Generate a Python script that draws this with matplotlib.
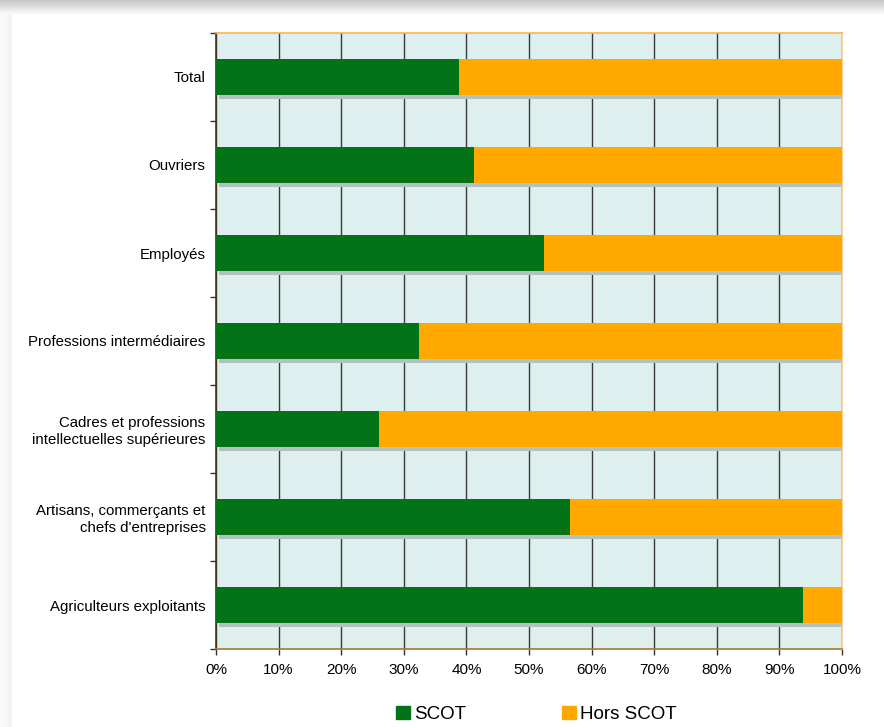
import numpy as np
import matplotlib.pyplot as plt
import matplotlib.patheffects as pe
from matplotlib.patches import Patch

plt.rcParams['font.family'] = ['Liberation Sans', 'DejaVu Sans']

categories = ["Agriculteurs exploitants",
              "Artisans, commerçants et\nchefs d'entreprises",
              "Cadres et professions\nintellectuelles supérieures",
              "Professions intermédiaires",
              "Employés",
              "Ouvriers",
              "Total"]
scot = [93.7, 56.5, 26.0, 32.4, 52.4, 41.2, 38.8]
hors_scot = [100 - v for v in scot]
xticks = [0, 10, 20, 30, 40, 50, 60, 70, 80, 90, 100]

green = "#037317"
orange = "#ffa800"

fig = plt.figure(figsize=(8.84, 7.27), dpi=100)
fig.patch.set_facecolor("white")

# gray band at top of the page and faint left border
band = fig.add_axes([0, 1 - 14 / 727, 1, 14 / 727])
grad = np.linspace(0.78, 0.97, 14).reshape(-1, 1)
band.imshow(grad, cmap="gray", vmin=0, vmax=1, aspect="auto", extent=[0, 1, 0, 1])
band.axis("off")
side = fig.add_axes([0, 0, 12 / 884, 1 - 14 / 727])
side.imshow(np.linspace(0.985, 0.95, 12).reshape(1, -1), cmap="gray", vmin=0, vmax=1,
            aspect="auto", extent=[0, 1, 0, 1])
side.axis("off")

ax = fig.add_axes([216 / 884, 78 / 727, 626 / 884, 616 / 727])
ax.set_facecolor("#deefef")

y = np.arange(len(categories))
h = 0.41
shadow = [pe.SimplePatchShadow(offset=(2.2, -2.9), shadow_rgbFace="#b5c0c0", alpha=1.0), pe.Normal()]
b1 = ax.barh(y, scot, height=h, color=green, label="SCOT", zorder=3)
b2 = ax.barh(y, hors_scot, left=scot, height=h, color=orange, label="Hors SCOT", zorder=3)
for bar in list(b1) + list(b2):
    bar.set_path_effects(shadow)

ax.set_xlim(0, 100)
ax.set_ylim(-0.5, len(categories) - 0.5)
ax.set_xticks(xticks)
ax.set_xticklabels([f"{t}%" for t in xticks], fontsize=11)
ax.set_yticks(y)
ax.set_yticklabels(categories, fontsize=10.8)
ax.tick_params(axis="y", which="major", length=0, pad=7.5)
ax.set_yticks(np.arange(-0.5, len(categories)), minor=True)
ax.tick_params(axis="y", which="minor", length=4, width=1, color="#333333")
ax.tick_params(axis="x", length=4, width=1, color="#333333", pad=6)

ax.set_axisbelow(True)
ax.grid(axis="x", color="#3a3a3a", lw=1, zorder=1)

ax.spines["left"].set_color("#4a3210")
ax.spines["bottom"].set_color("#a8782c")
ax.spines["top"].set_color("#fbb54a")
ax.spines["right"].set_color("#fbc88a")
for s in ax.spines.values():
    s.set_linewidth(1.2)

handles = [Patch(color=green, label="SCOT"), Patch(color=orange, label="Hors SCOT")]
fig.legend(handles=handles, loc="lower center", bbox_to_anchor=(0.607, -0.018), ncol=2,
           frameon=False, fontsize=13.5, handlelength=0.72, handleheight=0.72,
           handletextpad=0.25, columnspacing=5.1)

plt.savefig("out.png", dpi=100)
